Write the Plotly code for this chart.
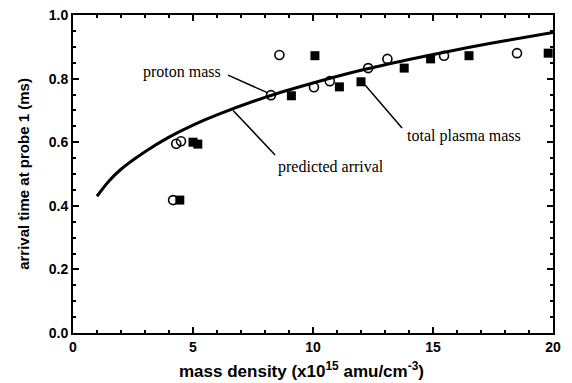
import plotly.graph_objects as go

# Data
proton_x = [4.17, 4.3, 4.5, 8.25, 8.6, 10.04, 10.7, 12.3, 13.1, 15.46, 18.5]
proton_y = [0.418, 0.595, 0.603, 0.748, 0.874, 0.773, 0.792, 0.833, 0.862, 0.872, 0.88]
total_x = [4.45, 5.0, 5.2, 9.1, 10.08, 11.1, 12.0, 13.8, 14.9, 16.5, 19.8]
total_y = [0.418, 0.600, 0.594, 0.746, 0.872, 0.774, 0.790, 0.833, 0.862, 0.872, 0.880]
pred_x = [1.0, 1.5, 2.0, 3.0, 4.0, 5.0, 6.0, 8.0, 10.0, 12.0, 14.0, 16.0, 18.0, 20.0]
pred_y = [0.430, 0.478, 0.515, 0.570, 0.616, 0.654, 0.686, 0.741, 0.786, 0.826, 0.860, 0.891, 0.919, 0.945]
x_ticks = [0, 5, 10, 15, 20]
y_ticks = [0.0, 0.2, 0.4, 0.6, 0.8, 1.0]

fig = go.Figure()
fig.add_trace(go.Scatter(x=pred_x, y=pred_y, mode="lines", line=dict(color="black", width=3, shape="spline", smoothing=1.0),
                         name="predicted arrival"))
fig.add_trace(go.Scatter(x=proton_x, y=proton_y, mode="markers",
                         marker=dict(symbol="circle-open", size=9, color="black", line=dict(width=1.6)),
                         name="proton mass"))
fig.add_trace(go.Scatter(x=total_x, y=total_y, mode="markers",
                         marker=dict(symbol="square", size=9, color="black"),
                         name="total plasma mass"))

serif = dict(family="Liberation Serif", size=16, color="black")
anns = [
    dict(text="proton mass", x=4.54, y=0.821),
    dict(text="predicted arrival", x=10.75, y=0.522),
    dict(text="total plasma mass", x=16.29, y=0.619),
]
for a in anns:
    fig.add_annotation(x=a["x"], y=a["y"], text=a["text"], showarrow=False, font=serif,
                       xref="x", yref="y")

leaders = [
    ((6.46, 0.811), (8.12, 0.755)),
    ((6.67, 0.700), (8.42, 0.560)),
    ((12.17, 0.780), (13.71, 0.645)),
]
for (x0, y0), (x1, y1) in leaders:
    fig.add_shape(type="line", x0=x0, y0=y0, x1=x1, y1=y1, xref="x", yref="y",
                  line=dict(color="black", width=1.5))

# x-axis title placed as an annotation (slightly left of centre, as in the original)
fig.add_annotation(text="mass density (x10<sup>15</sup> amu/cm<sup>-3</sup>)", xref="paper", yref="paper",
                   x=0.475, y=0, yshift=-37, yanchor="middle", xanchor="center", showarrow=False,
                   font=dict(family="Liberation Sans", size=17, color="black", weight="bold"))

axis_common = dict(showgrid=False, zeroline=False, showline=True, linecolor="black", linewidth=2,
                   mirror="ticks", ticks="inside", tickcolor="black", tickwidth=1.5, ticklen=6,
                   automargin=False, ticklabeloverflow="allow",
                   tickfont=dict(family="Liberation Sans", size=14, color="black", weight="bold"))
fig.update_xaxes(range=[0, 20], tickvals=x_ticks, ticktext=[str(v) for v in x_ticks],
                 minor=dict(dtick=1, ticks="inside", ticklen=3, tickcolor="black", tickwidth=1.5),
                 **axis_common)
fig.update_yaxes(range=[0, 1.0], tickvals=y_ticks, ticktext=[f"{v:.1f}" for v in y_ticks],
                 minor=dict(dtick=0.05, ticks="inside", ticklen=3, tickcolor="black", tickwidth=1.5),
                 title=dict(text="arrival time at probe 1 (ms)", standoff=15,
                            font=dict(family="Liberation Sans", size=15, color="black", weight="bold")),
                 **axis_common)
fig.update_layout(width=564, height=375, margin=dict(l=65, r=19, t=7, b=50),
                  plot_bgcolor="white", paper_bgcolor="white", showlegend=False)
fig.write_html("out.html")
